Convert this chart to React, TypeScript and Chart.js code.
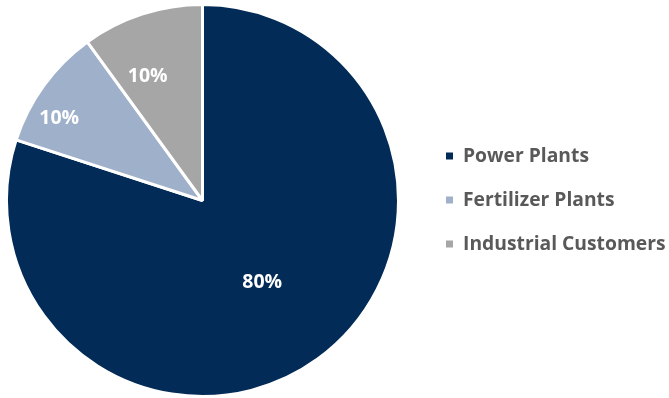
import React, { useEffect, useRef } from "react";
import { Chart, registerables } from "chart.js";

Chart.register(...registerables);

const categories = ["Power Plants", "Fertilizer Plants", "Industrial Customers"];
const shares = [80, 10, 10];
const sliceColors = ["#022B57", "#9FB0CA", "#A6A6A6"];
// where each percentage sits: fraction of the radius and a nudge (degrees) from the slice middle
const labelRadius = [0.51, 0.85, 0.7];
const labelNudge = [0, -6, -6];

const FONT = "'Open Sans', sans-serif";

const sliceLabels = {
  id: "sliceLabels",
  afterDatasetsDraw(chart: any) {
    const { ctx } = chart;
    const meta = chart.getDatasetMeta(0);
    const values = chart.data.datasets[0].data as number[];
    const total = values.reduce((a, b) => a + b, 0);
    ctx.save();
    ctx.fillStyle = "#FFFFFF";
    ctx.font = `bold 19.5px ${FONT}`;
    ctx.textAlign = "center";
    ctx.textBaseline = "middle";
    meta.data.forEach((arc: any, i: number) => {
      const { x, y, startAngle, endAngle, outerRadius } = arc.getProps(
        ["x", "y", "startAngle", "endAngle", "outerRadius"],
        true
      );
      const mid = (startAngle + endAngle) / 2 + (labelNudge[i] * Math.PI) / 180;
      const r = outerRadius * labelRadius[i];
      const pct = Math.round((values[i] / total) * 100);
      ctx.fillText(`${pct}%`, x + Math.cos(mid) * r + 1, y + Math.sin(mid) * r + 1);
    });
    ctx.restore();
  },
};

const sideLegend = {
  id: "sideLegend",
  afterDraw(chart: any) {
    const { ctx } = chart;
    const labels = chart.data.labels as string[];
    const colors = chart.data.datasets[0].backgroundColor as string[];
    const boxX = 446;
    const textX = 463;
    const firstY = 156;
    const step = 44;
    ctx.save();
    ctx.font = `bold 19.3px ${FONT}`;
    ctx.textAlign = "left";
    ctx.textBaseline = "middle";
    labels.forEach((label, i) => {
      const cy = firstY + i * step;
      ctx.fillStyle = colors[i];
      ctx.fillRect(boxX, cy - 3.5, 7, 7);
      ctx.fillStyle = "#595959";
      ctx.fillText(label, textX, cy + 1);
    });
    ctx.restore();
  },
};

export default function App() {
  const canvasRef = useRef<HTMLCanvasElement>(null);

  useEffect(() => {
    document.body.style.margin = "0";
    const canvas = canvasRef.current;
    if (!canvas) return;
    const chart = new Chart(canvas, {
      type: "pie",
      data: {
        labels: categories,
        datasets: [
          {
            data: shares,
            backgroundColor: sliceColors,
            borderColor: "#FFFFFF",
            borderWidth: 3,
          },
        ],
      },
      options: {
        animation: false,
        responsive: false,
        maintainAspectRatio: false,
        layout: { padding: { left: 5, top: 3, right: 269, bottom: 0 } },
        plugins: {
          legend: { display: false },
          tooltip: { enabled: false },
        },
      },
      plugins: [sliceLabels, sideLegend],
    });
    return () => chart.destroy();
  }, []);

  return (
    <div style={{ width: 669, height: 398, background: "#FFFFFF" }}>
      <canvas ref={canvasRef} width={669} height={398} style={{ display: "block" }} />
    </div>
  );
}
